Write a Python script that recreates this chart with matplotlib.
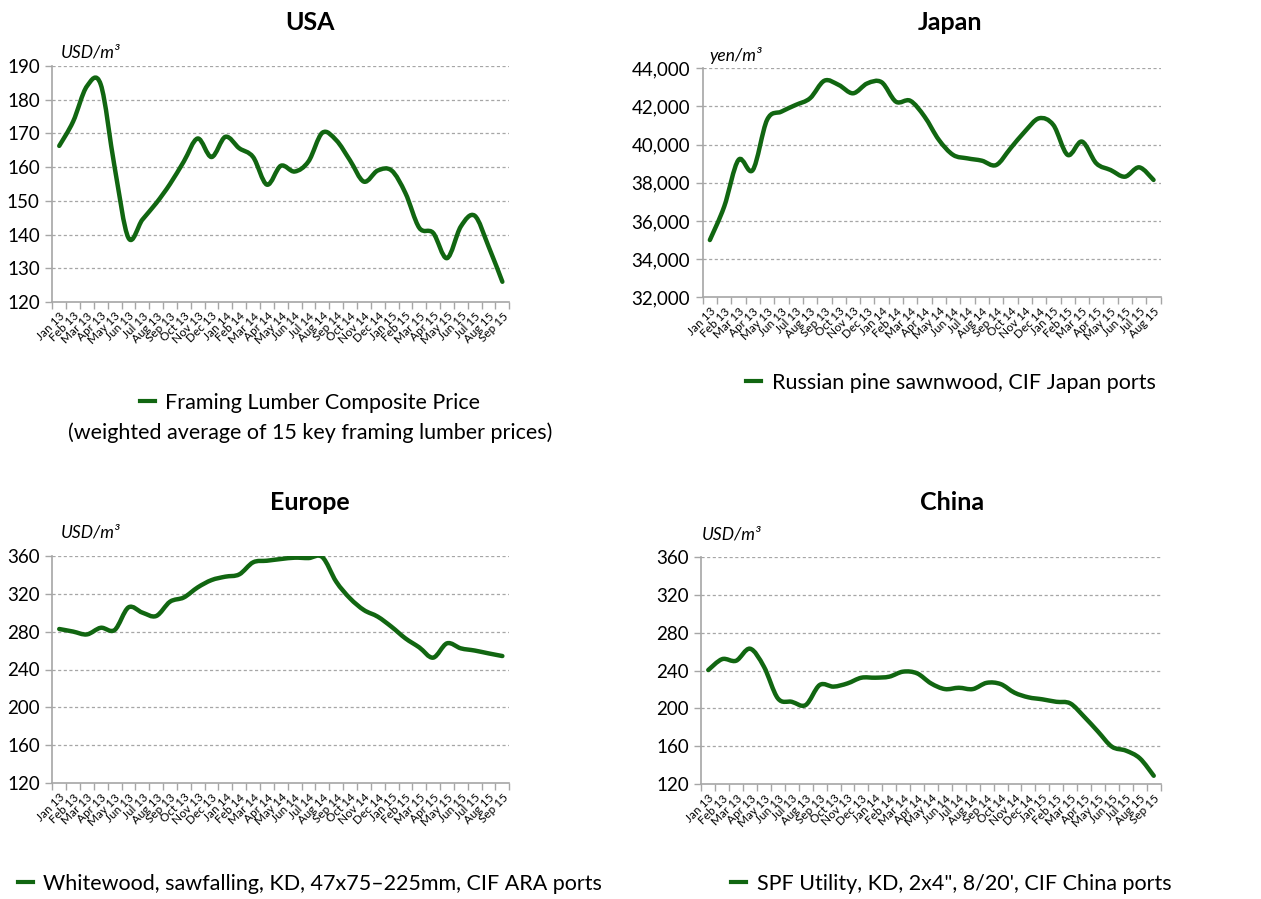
import matplotlib
matplotlib.use("Agg")
import matplotlib.pyplot as plt
from matplotlib.path import Path
from matplotlib.patches import PathPatch
from matplotlib.ticker import FuncFormatter, FixedLocator
from matplotlib.lines import Line2D

plt.rcParams['font.family'] = ['Lato', 'DejaVu Sans']

# ---------------- data ----------------
months_33 = ["Jan 13", "Feb 13", "Mar 13", "Apr 13", "May 13", "Jun 13", "Jul 13", "Aug 13",
             "Sep 13", "Oct 13", "Nov 13", "Dec 13", "Jan 14", "Feb 14", "Mar 14", "Apr 14",
             "May 14", "Jun 14", "Jul 14", "Aug 14", "Sep 14", "Oct 14", "Nov 14", "Dec 14",
             "Jan 15", "Feb 15", "Mar 15", "Apr 15", "May 15", "Jun 15", "Jul 15", "Aug 15",
             "Sep 15"]
months_32 = months_33[:32]

usa_values = [166.3, 173.5, 184.0, 184.5, 160.0, 139.0, 144.4, 149.3, 155.0, 161.7, 168.5,
              163.0, 169.0, 165.6, 163.0, 154.8, 160.4, 158.7, 161.7, 170.2, 168.0, 162.0,
              155.7, 159.0, 159.0, 152.3, 142.0, 140.5, 133.0, 142.4, 145.6, 136.5, 126.0]

japan_values = [35000, 36750, 39200, 38670, 41300, 41730, 42080, 42430, 43350, 43130, 42690,
                43210, 43270, 42250, 42300, 41470, 40250, 39460, 39280, 39160, 38930, 39800,
                40680, 41380, 41030, 39460, 40160, 39020, 38670, 38320, 38810, 38150]

europe_values = [282.7, 280.0, 277.0, 284.0, 281.6, 305.5, 300.0, 296.4, 311.5, 316.0, 326.6,
                 334.3, 337.9, 340.3, 353.0, 354.7, 356.5, 357.9, 357.5, 358.5, 332.6, 315.0,
                 302.7, 295.7, 285.0, 272.8, 263.3, 252.5, 267.6, 262.3, 260.0, 257.0, 254.2]

china_values = [240.5, 252.0, 250.3, 263.0, 244.0, 210.6, 207.0, 203.6, 224.7, 223.0, 226.4,
                232.4, 232.4, 233.5, 238.8, 237.0, 226.4, 220.4, 221.8, 220.4, 227.0, 225.7,
                216.6, 211.7, 209.6, 207.0, 205.3, 191.3, 175.5, 159.6, 155.5, 147.4, 129.0]

titles = ["USA", "Japan", "Europe", "China"]
units = ["USD/m³", "yen/m³", "USD/m³", "USD/m³"]
legend_labels = ["Framing Lumber Composite Price",
                 "Russian pine sawnwood, CIF Japan ports",
                 "Whitewood, sawfalling, KD, 47x75–225mm, CIF ARA ports",
                 "SPF Utility, KD, 2x4\", 8/20', CIF China ports"]
usa_note = "(weighted average of 15 key framing lumber prices)"

y_ranges = [(120, 190, 10), (32000, 44000, 2000), (120, 360, 40), (120, 360, 40)]

# ---------------- style ----------------
W, H = 1261, 899
LINE_COLOR = "#116611"
GRID_COLOR = "#a6a6a6"
AX_COLOR = "#a6a6a6"

fig = plt.figure(figsize=(W / 100, H / 100), dpi=100)


def px_rect(left, top, right, bottom):
    return [left / W, 1 - bottom / H, (right - left) / W, (bottom - top) / H]


rects = [px_rect(52.3, 66.0, 509.3, 302.0),
         px_rect(702.7, 68.3, 1160.7, 297.3),
         px_rect(52.3, 555.7, 509.3, 783.3),
         px_rect(701.3, 556.7, 1160.7, 784.3)]
title_pos = [(310, 22), (950, 22), (310, 503), (952, 503)]
unit_pos = [(61, 52), (709, 55), (61, 533), (702, 535)]
legend_pos = [(310, 403), (951, 383), (310, 884), (951, 884)]

datasets = [(months_33, usa_values), (months_32, japan_values),
            (months_33, europe_values), (months_33, china_values)]


def smooth_path(xs, ys):
    # Excel-like smoothed line: cubic Bezier through the points (Catmull-Rom)
    n = len(xs)
    verts = [(xs[0], ys[0])]
    codes = [Path.MOVETO]
    for i in range(n - 1):
        x0, y0 = (xs[i - 1], ys[i - 1]) if i > 0 else (xs[i], ys[i])
        x1, y1 = xs[i], ys[i]
        x2, y2 = xs[i + 1], ys[i + 1]
        x3, y3 = (xs[i + 2], ys[i + 2]) if i + 2 < n else (xs[i + 1], ys[i + 1])
        c1 = (x1 + (x2 - x0) / 6.0, y1 + (y2 - y0) / 6.0)
        c2 = (x2 - (x3 - x1) / 6.0, y2 - (y3 - y1) / 6.0)
        verts += [c1, c2, (x2, y2)]
        codes += [Path.CURVE4, Path.CURVE4, Path.CURVE4]
    return Path(verts, codes)


for k in range(4):
    cats, vals = datasets[k]
    ax = fig.add_axes(rects[k])
    n = len(cats)
    xs = list(range(n))
    patch = PathPatch(smooth_path(xs, vals), facecolor="none", edgecolor=LINE_COLOR,
                      lw=3.2, capstyle="round", joinstyle="round", transform=ax.transData,
                      zorder=3)
    ax.add_patch(patch)
    ax.set_xlim(-0.5, n - 0.5)
    lo, hi, step = y_ranges[k]
    ax.set_ylim(lo, hi)
    yt = list(range(lo, hi + 1, step))
    ax.set_yticks(yt)
    if k == 1:
        ax.yaxis.set_major_formatter(FuncFormatter(lambda v, p: f"{int(v):,}"))
    for v in yt[1:]:
        ax.axhline(v, color=GRID_COLOR, lw=0.9, ls=(0, (2.5, 2)), zorder=1)

    ax.set_xticks(xs)
    ax.set_xticklabels(cats, rotation=45, ha="right", va="top",
                       rotation_mode="anchor", fontsize=8.5)
    ax.xaxis.set_minor_locator(FixedLocator([i - 0.5 for i in range(n + 1)]))
    ax.tick_params(axis="x", which="major", length=0, pad=6)
    ax.tick_params(axis="x", which="minor", length=5, color=AX_COLOR, width=1)
    ax.tick_params(axis="y", length=5, color=AX_COLOR, width=1, labelsize=13.5, pad=4)

    for s in ["top", "right"]:
        ax.spines[s].set_visible(False)
    for s in ["left", "bottom"]:
        ax.spines[s].set_color(AX_COLOR)
        ax.spines[s].set_linewidth(1.2)

    tx, ty = title_pos[k]
    fig.text(tx / W, 1 - ty / H, titles[k], ha="center", va="center",
             fontsize=18, fontweight="bold")
    ux, uy = unit_pos[k]
    fig.text(ux / W, 1 - uy / H, units[k], ha="left", va="center",
             fontsize=12.5, style="italic")

    handle = Line2D([], [], color=LINE_COLOR, lw=3.0)
    lx, ly = legend_pos[k]
    ax.legend([handle], [legend_labels[k]], loc="center",
              bbox_to_anchor=(lx / W, 1 - ly / H), bbox_transform=fig.transFigure,
              frameon=False, fontsize=15.5, handlelength=0.7, handletextpad=0.5)

fig.text(310 / W, 1 - 433 / H, usa_note, ha="center", va="center", fontsize=15.5)

fig.savefig("out.png", dpi=100)
